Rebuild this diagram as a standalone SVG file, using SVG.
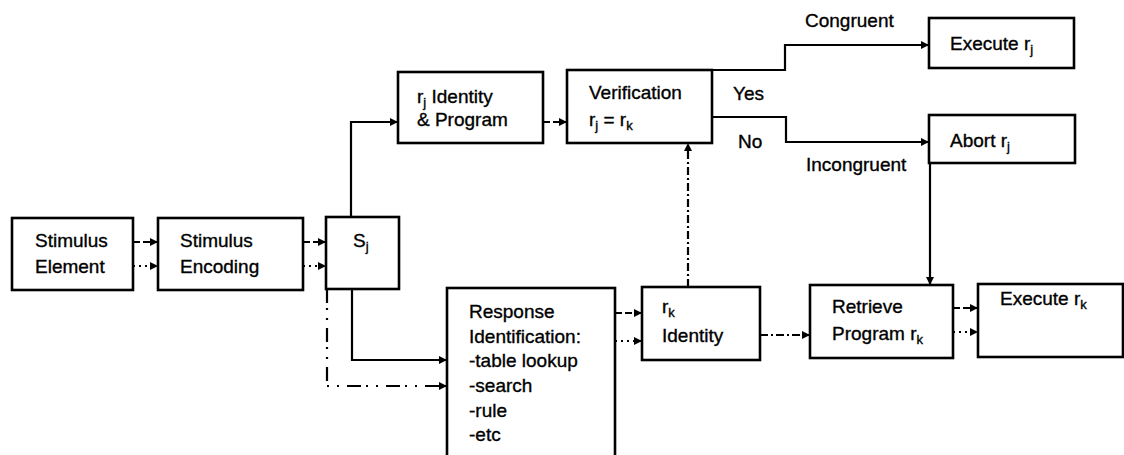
<svg xmlns="http://www.w3.org/2000/svg" width="1124" height="455" viewBox="0 0 1124 455">
<style>
text{font-family:"Liberation Sans",Arial,sans-serif;font-size:19px;fill:#000;stroke:#000;stroke-width:0.35}
.sub{font-size:13px}
.box{fill:#fff;stroke:#000;stroke-width:2.6}
.c{fill:none;stroke:#000;stroke-width:2.2}
.d{stroke-dasharray:7 3}
.o{stroke-dasharray:2 4}
.dd{stroke-dasharray:8 3 2 3}
.ld{stroke-dasharray:14 5 2 8 2 8}
</style>
<defs>
<marker id="ah" viewBox="0 0 10 10" refX="10" refY="5" markerWidth="9" markerHeight="8" markerUnits="userSpaceOnUse" orient="auto">
<path d="M0,0L10,5L0,10z" fill="#000"/>
</marker>
</defs>
<rect width="1124" height="455" fill="#fff"/>
<g id="connectors">
<path class="c d" d="M133,242H158" marker-end="url(#ah)"/>
<path class="c o" d="M133,266H158" marker-end="url(#ah)"/>
<path class="c d" d="M303,242H326" marker-end="url(#ah)"/>
<path class="c o" d="M303,266H326" marker-end="url(#ah)"/>
<path class="c" d="M351,217V122H398" marker-end="url(#ah)"/>
<path class="c d" d="M543,122H567" marker-end="url(#ah)"/>
<path class="c" d="M712,70H785V45H929" marker-end="url(#ah)"/>
<path class="c" d="M712,117H786V142H929" marker-end="url(#ah)"/>
<path class="c" d="M930,163V285" marker-end="url(#ah)"/>
<path class="c dd" d="M688,287V143" marker-end="url(#ah)"/>
<path class="c" d="M352,289V360H447" marker-end="url(#ah)"/>
<path class="c ld" d="M327,289V386H447" marker-end="url(#ah)"/>
<path class="c d" d="M615,313H642" marker-end="url(#ah)"/>
<path class="c o" d="M615,341H642" marker-end="url(#ah)"/>
<path class="c dd" d="M760,335H810" marker-end="url(#ah)"/>
<path class="c d" d="M953,308H978" marker-end="url(#ah)"/>
<path class="c o" d="M953,332H978" marker-end="url(#ah)"/>
</g>
<g id="stimulus-element">
<rect class="box" x="12" y="218" width="121" height="72"/>
<text x="35" y="247">Stimulus</text>
<text x="35" y="273">Element</text>
</g>
<g id="stimulus-encoding">
<rect class="box" x="158" y="218" width="145" height="72"/>
<text x="180" y="247">Stimulus</text>
<text x="180" y="273">Encoding</text>
</g>
<g id="sj">
<rect class="box" x="326" y="217" width="73" height="72"/>
<text x="353" y="247">S<tspan class="sub" dy="4">j</tspan></text>
</g>
<g id="rj-identity">
<rect class="box" x="398" y="72" width="145" height="71"/>
<text x="417" y="103">r<tspan class="sub" dy="4">j</tspan><tspan dy="-4"> Identity</tspan></text>
<text x="417" y="126">&amp; Program</text>
</g>
<g id="verification">
<rect class="box" x="567" y="70" width="145" height="73"/>
<text x="589" y="99">Verification</text>
<text x="589" y="126">r<tspan class="sub" dy="4">j</tspan><tspan dy="-4"> = r</tspan><tspan class="sub" dy="4">k</tspan></text>
</g>
<g id="labels">
<text x="805" y="27">Congruent</text>
<text x="733" y="100">Yes</text>
<text x="738" y="148">No</text>
<text x="806" y="171">Incongruent</text>
</g>
<g id="execute-rj">
<rect class="box" x="929" y="18" width="145" height="50"/>
<text x="950" y="50">Execute r<tspan class="sub" dy="4">j</tspan></text>
</g>
<g id="abort-rj">
<rect class="box" x="929" y="115" width="146" height="48"/>
<text x="950" y="147">Abort r<tspan class="sub" dy="4">j</tspan></text>
</g>
<g id="response-identification">
<rect class="box" x="447" y="288" width="168" height="180"/>
<text x="469" y="318">Response</text>
<text x="469" y="343">Identification:</text>
<text x="469" y="367">-table lookup</text>
<text x="469" y="392">-search</text>
<text x="469" y="417">-rule</text>
<text x="469" y="441">-etc</text>
</g>
<g id="rk-identity">
<rect class="box" x="642" y="287" width="118" height="73"/>
<text x="662" y="313">r<tspan class="sub" dy="4">k</tspan></text>
<text x="662" y="342">Identity</text>
</g>
<g id="retrieve-program">
<rect class="box" x="810" y="285" width="143" height="73"/>
<text x="832" y="313">Retrieve</text>
<text x="832" y="340">Program r<tspan class="sub" dy="4">k</tspan></text>
</g>
<g id="execute-rk">
<rect class="box" x="978" y="284" width="145" height="73"/>
<text x="1000" y="305">Execute r<tspan class="sub" dy="4">k</tspan></text>
</g>
</svg>
